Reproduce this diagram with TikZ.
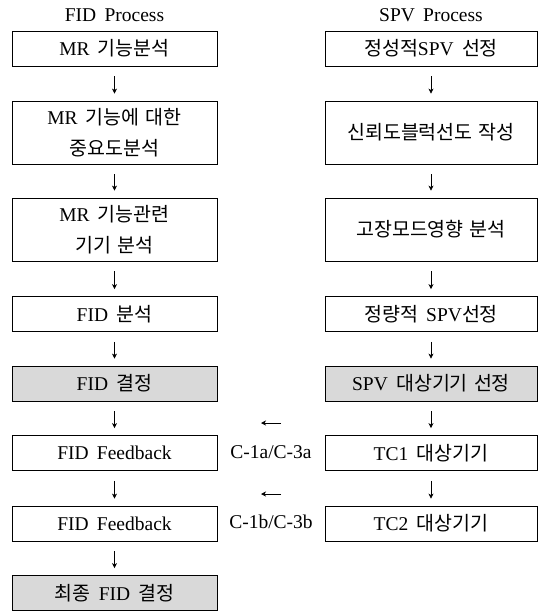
\documentclass[tikz,border=0pt]{standalone}
\usepackage{fontspec}
\usetikzlibrary{arrows.meta}
\setmainfont{Liberation Serif}[WordSpace=1.7]
\newfontfamily\krfont{Noto Sans CJK KR}[Scale=1.0,WordSpace=1.4]
\newcommand{\kr}[1]{{\krfont #1}}
\definecolor{boxgray}{RGB}{217,217,217}
\begin{document}
\begin{tikzpicture}[x=1pt,y=-1pt,
  font=\fontsize{19.5}{31}\selectfont,
  box/.style={draw,line width=0.8pt,minimum height=35pt,align=center,inner sep=0pt},
  fidbox/.style={box,minimum width=205pt},
  spvbox/.style={box,minimum width=212pt},
  tall/.style={minimum height=63pt},
  result/.style={fill=boxgray},
  flow/.style={-{Stealth[length=5pt,width=5pt,inset=1.5pt]},line width=0.7pt,shorten <=10pt,shorten >=7pt},
  back/.style={-{Stealth[length=5pt,width=5pt,inset=1.5pt]},line width=0.7pt}]
\useasboundingbox (0,0) rectangle (541,612);
\node (fidtitle) at (114.5,15) {FID Process};
\node (spvtitle) at (431,15) {SPV Process};
\node[fidbox] (fid1) at (114.5,48.5) {MR \kr{기능분석}};
\node[fidbox,tall] (fid2) at (114.5,132.5) {MR \kr{기능에 대한}\\\kr{중요도분석}};
\node[fidbox,tall] (fid3) at (114.5,229.5) {MR \kr{기능관련}\\\kr{기기 분석}};
\node[fidbox] (fid4) at (114.5,314) {FID \kr{분석}};
\node[fidbox,result] (fid5) at (114.5,383.5) {FID \kr{결정}};
\node[fidbox] (fid6) at (114.5,453) {FID Feedback};
\node[fidbox] (fid7) at (114.5,523.5) {FID Feedback};
\node[fidbox,result] (fid8) at (114.5,593) {\kr{최종} FID \kr{결정}};
\node[spvbox] (spv1) at (431,48.5) {\kr{정성적}SPV \kr{선정}};
\node[spvbox,tall] (spv2) at (431,132.5) {\kr{신뢰도블럭선도 작성}};
\node[spvbox,tall] (spv3) at (431,229.5) {\kr{고장모드영향 분석}};
\node[spvbox] (spv4) at (431,314) {\kr{정량적} SPV\kr{선정}};
\node[spvbox,result] (spv5) at (431,383.5) {SPV \kr{대상기기 선정}};
\node[spvbox] (spv6) at (431,453) {TC1 \kr{대상기기}};
\node[spvbox] (spv7) at (431,523.5) {TC2 \kr{대상기기}};
\draw[flow] (fid1) -- (fid2);
\draw[flow] (fid2) -- (fid3);
\draw[flow] (fid3) -- (fid4);
\draw[flow] (fid4) -- (fid5);
\draw[flow] (fid5) -- (fid6);
\draw[flow] (fid6) -- (fid7);
\draw[flow] (fid7) -- (fid8);
\draw[flow] (spv1) -- (spv2);
\draw[flow] (spv2) -- (spv3);
\draw[flow] (spv3) -- (spv4);
\draw[flow] (spv4) -- (spv5);
\draw[flow] (spv5) -- (spv6);
\draw[flow] (spv6) -- (spv7);
\coordinate (fbAstart) at (281,423);
\coordinate (fbAend) at (261,423);
\coordinate (fbBstart) at (281,494);
\coordinate (fbBend) at (261,494);
\draw[back] (fbAstart) -- (fbAend);
\draw[back] (fbBstart) -- (fbBend);
\node (fbAlabel) at (271,452) {C-1a/C-3a};
\node (fbBlabel) at (271,522) {C-1b/C-3b};
\end{tikzpicture}
\end{document}
